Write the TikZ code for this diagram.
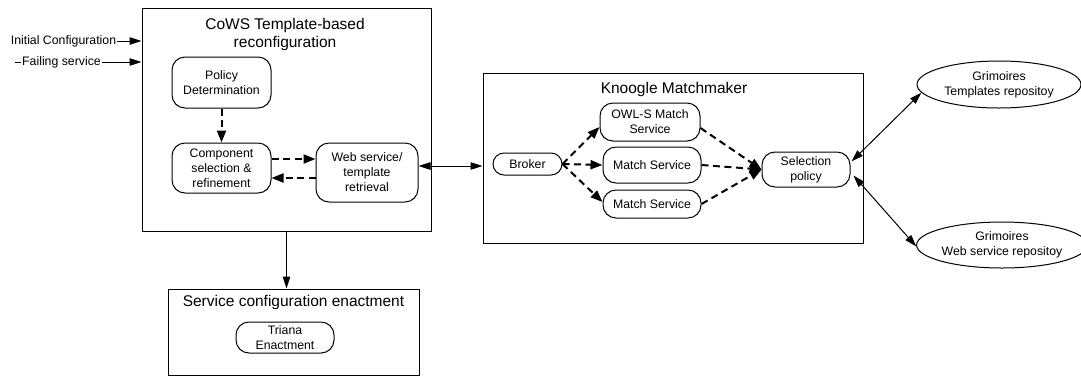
\documentclass[tikz,border=0pt]{standalone}
\usepackage{fontspec}
\setmainfont{Liberation Sans}
\usetikzlibrary{arrows.meta,shapes.geometric,calc}
\begin{document}
\begin{tikzpicture}[x=1pt,y=-1pt,
  every node/.style={font=\fontsize{12.3}{15}\selectfont, align=center, inner sep=0pt},
  proc/.style={draw, rounded corners=13pt, line width=1pt},
  frame/.style={draw, line width=1pt},
  ttl/.style={font=\fontsize{15.5}{18}\selectfont},
  repo/.style={draw, ellipse, line width=1pt},
  arr/.style={line width=1pt, -{Triangle[length=12pt,width=7.5pt]}},
  arrb/.style={line width=1pt, {Triangle[length=12pt,width=7.5pt]}-{Triangle[length=12pt,width=7.5pt]}},
  darr/.style={line width=2pt, dash pattern=on 7pt off 4.5pt, -{Triangle[length=12pt,width=9pt]}}
]
\useasboundingbox (0,0) rectangle (1081,376);

% frames
\node[frame, minimum width=289pt, minimum height=223pt] (cows) at (286.5,119.5) {};
\node[frame, minimum width=380pt, minimum height=170pt] (knoogle) at (673,158) {};
\node[frame, minimum width=251pt, minimum height=86pt] (enact) at (293.5,332) {};

% titles
\node[ttl] (cowst) at (285,34) {CoWS Template-based\\reconfiguration};
\node[ttl] (knooglet) at (674,89) {Knoogle Matchmaker};
\node[ttl] (enactt) at (293.5,302) {Service configuration enactment};

% CoWS inner nodes
\node[proc, minimum width=99pt, minimum height=51pt] (pol) at (221.5,82.5) {Policy\\Determination};
\node[proc, minimum width=99pt, minimum height=50pt] (comp) at (221.5,168) {Component\\selection \&\\refinement};
\node[proc, minimum width=102pt, minimum height=59pt] (web) at (367,172.5) {Web service/\\template\\retrieval};

% Knoogle inner nodes
\node[proc, rounded corners=11pt, minimum width=69pt, minimum height=22pt] (broker) at (527.5,164) {Broker};
\node[proc, minimum width=100pt, minimum height=38pt] (owls) at (650,122) {OWL-S Match\\Service};
\node[proc, minimum width=98pt, minimum height=36pt] (ms1) at (652,165) {Match Service};
\node[proc, minimum width=98pt, minimum height=28pt] (ms2) at (652,204) {Match Service};
\node[proc, minimum width=88pt, minimum height=35pt] (sel) at (806,169.5) {Selection\\policy};

% enactment
\node[proc, minimum width=98pt, minimum height=31pt] (triana) at (285,337.5) {Triana\\Enactment};

% repositories
\node[repo, minimum width=164pt, minimum height=47pt] (gt) at (999,84.5) {Grimoires\\Templates repositoy};
\node[repo, minimum width=158pt, minimum height=46pt] (gw) at (1002,245) {Grimoires\\Web service repositoy};

% inputs
\node[inner sep=0.5pt] (init) at (63.5,41) {Initial Configuration};
\draw[arr] (init.east) -- (cows.west |- init);
\coordinate (fstart) at (15,62);
\node[inner sep=0.5pt] (fail) at (61.5,62) {Failing service};
\draw[line width=1pt] (fstart) -- (fail.west);
\draw[arr] (fail.east) -- (cows.west |- fail);

% CoWS internal
\draw[darr] (pol) -- (comp);
\draw[darr] ($(comp.east)+(0,-9)$) -- ($(web.west)+(0,-13.5)$);
\draw[darr] ($(web.west)+(0,5.5)$) -- ($(comp.east)+(0,10)$);

% CoWS <-> Knoogle
\draw[arrb] ($(web.east)+(0,-6.5)$) -- ($(knoogle.west)+(0,8)$);

% CoWS -> enactment
\draw[arr] (cows.south) -- (cows.south |- enact.north);

% Knoogle internal
\draw[darr] (broker.east) -- ($(owls.west)+(0,5)$);
\draw[darr] (broker.east) -- (ms1.west);
\draw[darr] (broker.east) -- ($(ms2.west)+(0,-2)$);
\draw[darr] ($(owls.east)+(0,6)$) -- (sel.west);
\draw[darr] (ms1.east) -- (sel.west);
\draw[darr] (ms2.east) -- (sel.west);

% Selection <-> repositories
\draw[arrb] ($(sel.east)+(1,-8)$) -- (gt.186);
\draw[arrb] ($(sel.east)+(3,6)$) -- (gw.181);
\end{tikzpicture}
\end{document}
